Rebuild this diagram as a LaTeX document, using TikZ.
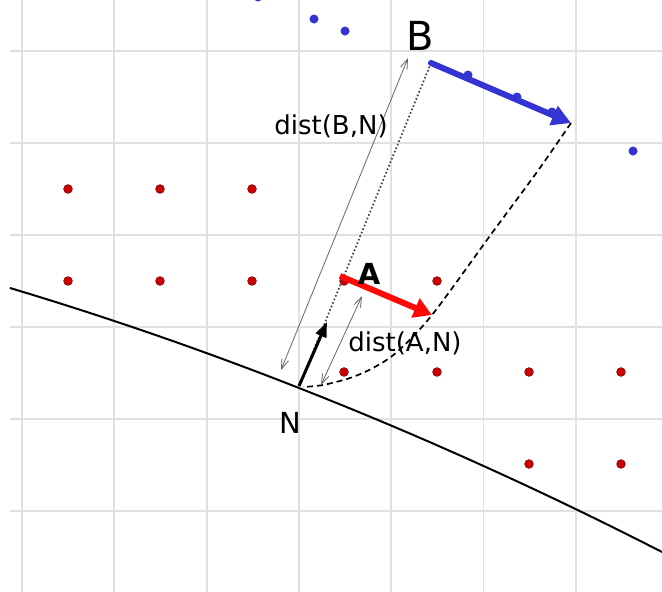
\documentclass[tikz,border=0pt]{standalone}
\usepackage{fontspec}
\setmainfont{DejaVu Sans}
\usetikzlibrary{arrows.meta}
\definecolor{gridgray}{HTML}{E0E0E0}
\definecolor{dotred}{HTML}{CC0000}
\definecolor{vecblue}{HTML}{3434D2}
\definecolor{vecred}{HTML}{FF0808}

\begin{document}
\begin{tikzpicture}[x=1pt,y=-1pt,
  gridline/.style={gridgray,line width=1.8pt},
  reddot/.style={fill=dotred,draw=dotred!60!black,line width=.5pt},
  bluedot/.style={fill=vecblue},
  measure/.style={black!60,line width=.8pt,{Straight Barb[length=10pt,width=7pt]}-{Straight Barb[length=10pt,width=7pt]}}]
  \useasboundingbox (0,0) rectangle (662,592);
  % grid
  \foreach \i in {0,...,6} \draw[gridline] ({22+92.3*\i},0) -- ({22+92.3*\i},592);
  \foreach \j in {0,...,5} \draw[gridline] (10,{51+92*\j}) -- (662,{51+92*\j});
  % lattice points
  \foreach \p in {(68,189),(160,189),(252,189),(68,281),(160,281),(252,281),(344,281),(437,281),
                  (344,372),(437,372),(529,372),(621,372),(529,464),(621,464)}
    \draw[reddot] \p circle (4.4);
  \foreach \p in {(258,-3),(314,19),(345,31),(633,151)}
    \fill[bluedot] \p circle (4.5);

  \coordinate (N) at (299,386);
  \coordinate (Ntip) at (327,322);
  \coordinate (Atail) at (340,276);
  \coordinate (Atip) at (432,315);
  \coordinate (Btail) at (431,63);
  \coordinate (Btip) at (571,123);

  % surface
  \draw[line width=2pt] (10,288) .. controls (227,353) and (445,441) .. (662,552);

  % construction lines
  \draw[black!75,line width=1.7pt,dash pattern=on 1.6pt off 2.2pt] (Btail) -- (N);
  \draw[line width=1.7pt,dash pattern=on 6pt off 4pt] plot[smooth,tension=.5] coordinates
    {(Btip) (537,172) (492,233) (Atip) (397,352) (373,368) (350,378) (323,385) (303,387)};

  % distances
  \coordinate (mBlo) at (281,370);
  \coordinate (mBhi) at (408,58);
  \coordinate (mAlo) at (321,385);
  \coordinate (mAhi) at (362,296);
  \draw[measure] (mBlo) -- (mBhi);
  \draw[measure] (mAlo) -- (mAhi);

  % vectors
  \draw[line width=3pt,-{Triangle[length=15pt,width=11pt]}] (N) -- (Ntip);
  \draw[vecred,line width=6pt,-{Triangle[length=18pt,width=20pt]}] (Atail) -- (Atip);
  \draw[vecblue,line width=6pt,line cap=round,-{Triangle[length=19pt,width=20pt]}] (Btail) -- (Btip);
  \foreach \p in {(468,75),(517,97),(552,112)}
    \fill[bluedot] \p circle (4.5);

  % labels
  \node (labB) at (420,36) {\fontsize{40}{44}\selectfont B};
  \node (labN) at (290,423) {\fontsize{29}{32}\selectfont N};
  \node (labA) at (369,274) {\fontsize{29}{32}\selectfont\bfseries A};
  \node (labBN) at (331,126) {\fontsize{26}{29}\selectfont dist(B,N)};
  \node (labAN) at (405,343) {\fontsize{26}{29}\selectfont dist(A,N)};
\end{tikzpicture}
\end{document}
